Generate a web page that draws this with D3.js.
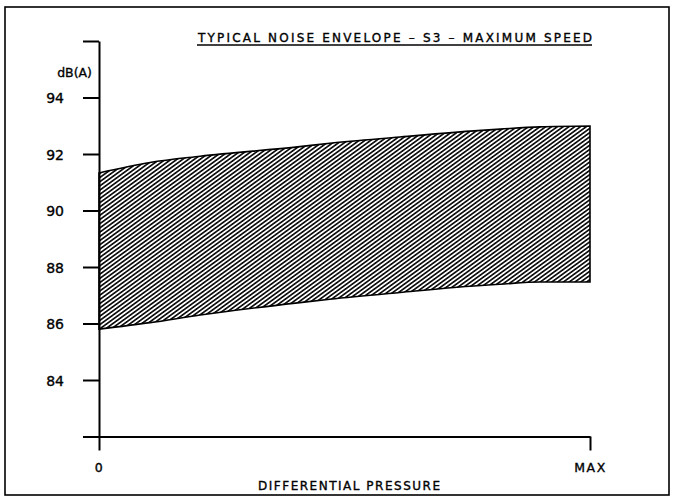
<!DOCTYPE html>
<html>
<head>
<meta charset="utf-8">
<script src="https://cdn.jsdelivr.net/npm/d3@7"></script>
<style>
  html, body { margin: 0; padding: 0; background: #fff; }
  svg { display: block; }
  text { font-family: "DejaVu Sans", sans-serif; fill: #000; stroke: #000; stroke-width: 0.35px; }
</style>
</head>
<body>
<svg id="chart" width="673" height="502"></svg>
<script>
// Differential pressure as a fraction of the maximum (0 .. MAX)
const pressure = [0, 0.104, 0.206, 0.409, 0.47, 0.613, 0.756, 0.817, 0.898, 1];
// Upper and lower bounds of the noise envelope, dB(A)
const upperDb = [91.33, 91.70, 91.92, 92.26, 92.38, 92.60, 92.81, 92.88, 92.96, 92.99];
const lowerDb = [85.80, 86.03, 86.30, 86.74, 86.86, 87.10, 87.32, 87.39, 87.47, 87.47];
// Axis ticks
const yTicks = [82, 84, 86, 88, 90, 92, 94, 96];
const yTickLabels = ["", "84", "86", "88", "90", "92", "94", ""];
const xTicks = [0, 1];
const xTickLabels = ["0", "MAX"];

const svg = d3.select("#chart");

// Outer frame
svg.append("rect")
  .attr("x", 5).attr("y", 7).attr("width", 664).attr("height", 488)
  .attr("fill", "none").attr("stroke", "#000").attr("stroke-width", 1.6);

const x = d3.scaleLinear().domain([0, 1]).range([99, 590]);
const y = d3.scaleLinear().domain([82, 96]).range([436.5, 41]);

// Diagonal hatching for the envelope
const defs = svg.append("defs");
const pat = defs.append("pattern")
  .attr("id", "hatch")
  .attr("patternUnits", "userSpaceOnUse")
  .attr("width", 8).attr("height", 3.4)
  .attr("patternTransform", "rotate(-36)");
pat.append("rect").attr("width", 8).attr("height", 3.4).attr("fill", "#fff");
pat.append("line")
  .attr("x1", 0).attr("x2", 8).attr("y1", 1.7).attr("y2", 1.7)
  .attr("stroke", "#000").attr("stroke-width", 1.6);

const rows = pressure.map((p, i) => ({ p, hi: upperDb[i], lo: lowerDb[i] }));

const area = d3.area()
  .x(d => x(d.p))
  .y0(d => y(d.lo))
  .y1(d => y(d.hi))
  .curve(d3.curveMonotoneX);

svg.append("path")
  .datum(rows)
  .attr("d", area)
  .attr("fill", "url(#hatch)")
  .attr("stroke", "#000")
  .attr("stroke-width", 1.6)
  .attr("stroke-linejoin", "miter");

// Y axis
const yAxis = d3.axisLeft(y)
  .tickValues(yTicks)
  .tickFormat((d, i) => yTickLabels[i])
  .tickSize(16)
  .tickSizeOuter(0)
  .tickPadding(19);
const gy = svg.append("g").attr("transform", `translate(${x(0)},0)`).call(yAxis);
gy.select(".domain").attr("stroke-width", 2);
gy.selectAll(".tick line").attr("stroke-width", 2);
gy.selectAll(".tick text").attr("font-size", 14).attr("dy", "0.36em");

// X axis
const xAxis = d3.axisBottom(x)
  .tickValues(xTicks)
  .tickFormat((d, i) => xTickLabels[i])
  .tickSize(14)
  .tickSizeOuter(0)
  .tickPadding(13);
const gx = svg.append("g").attr("transform", `translate(0,${y(82)})`).call(xAxis);
gx.select(".domain").attr("stroke-width", 2);
gx.selectAll(".tick line").attr("stroke-width", 2);
gx.selectAll(".tick text").attr("font-size", 12.5).attr("letter-spacing", "1.5px");

// Unit label
svg.append("text")
  .attr("x", 92).attr("y", 77)
  .attr("text-anchor", "end")
  .attr("font-size", 12.5)
  .text("dB(A)");

// Title with underline
svg.append("text")
  .attr("x", 198).attr("y", 41.5)
  .attr("font-size", 12)
  .attr("textLength", 394)
  .attr("lengthAdjust", "spacing")
  .text("TYPICAL NOISE ENVELOPE \u2013 S3 \u2013 MAXIMUM SPEED");
svg.append("line")
  .attr("x1", 197).attr("x2", 592).attr("y1", 45).attr("y2", 45)
  .attr("stroke", "#000").attr("stroke-width", 1.3);

// X axis title
svg.append("text")
  .attr("x", 258).attr("y", 490)
  .attr("font-size", 12)
  .attr("textLength", 182)
  .attr("lengthAdjust", "spacing")
  .text("DIFFERENTIAL PRESSURE");
</script>
</body>
</html>
